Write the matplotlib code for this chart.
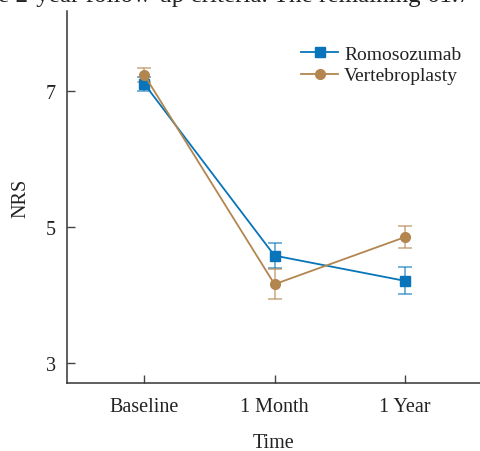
import matplotlib
matplotlib.use('Agg')
import matplotlib.pyplot as plt

# NRS scores over time
timepoints = ['Baseline', '1 Month', '1 Year']
romo_mean = [7.10, 4.58, 4.21]
romo_err = [0.10, 0.18, 0.20]
verte_mean = [7.23, 4.16, 4.85]
verte_err = [0.10, 0.22, 0.16]

blue = '#0874BA'
brown = '#B3854F'

plt.rcParams['font.family'] = ['Liberation Serif', 'DejaVu Serif']

fig = plt.figure(figsize=(4.81, 4.52), dpi=100)
ax = fig.add_axes([0.1387, 0.1504, 0.8613, 0.8231])

x = list(range(len(timepoints)))

# error bars first (lighter), then lines with markers
ax.errorbar(x, romo_mean, yerr=romo_err, fmt='none', ecolor=blue, alpha=0.6,
            elinewidth=1.3, capsize=5, capthick=1.3)
ax.errorbar(x, verte_mean, yerr=verte_err, fmt='none', ecolor=brown, alpha=0.6,
            elinewidth=1.3, capsize=5, capthick=1.3)
ax.plot(x, romo_mean, color=blue, marker='s', markersize=7, linewidth=1.3,
        label='Romosozumab')
ax.plot(x, verte_mean, color=brown, marker='o', markersize=7, linewidth=1.3,
        label='Vertebroplasty')

ax.set_xlim(-0.596, 2.586)
ax.set_ylim(2.71, 8.17)
ax.set_xticks(x)
ax.set_xticklabels(timepoints)
ax.set_yticks([3, 5, 7])

for s in ['top', 'right']:
    ax.spines[s].set_visible(False)
for s in ['left', 'bottom']:
    ax.spines[s].set_linewidth(1.1)
    ax.spines[s].set_color('#333333')

ax.tick_params(axis='both', direction='in', length=6, width=1.0, color='#444444',
               labelsize=14.5, labelcolor='#222222')
ax.tick_params(axis='y', pad=8)
ax.tick_params(axis='x', pad=10)

ax.set_xlabel('Time', fontsize=14.5, color='#222222', labelpad=12)
ax.set_ylabel('NRS', fontsize=14.5, color='#222222', labelpad=11)

ax.legend(loc='upper right', bbox_to_anchor=(0.995, 0.955), frameon=False,
          fontsize=14, handlelength=1.9, handletextpad=0.3, labelspacing=0.2,
          labelcolor='#222222')

# cropped line of body text at the very top of the image
fig.text(-0.005, 0.995, 'e 2-year follow-up criteria. The remaining 61.7',
         fontsize=18, va='baseline', ha='left', color='#222222')

fig.savefig('out.png', dpi=100)
